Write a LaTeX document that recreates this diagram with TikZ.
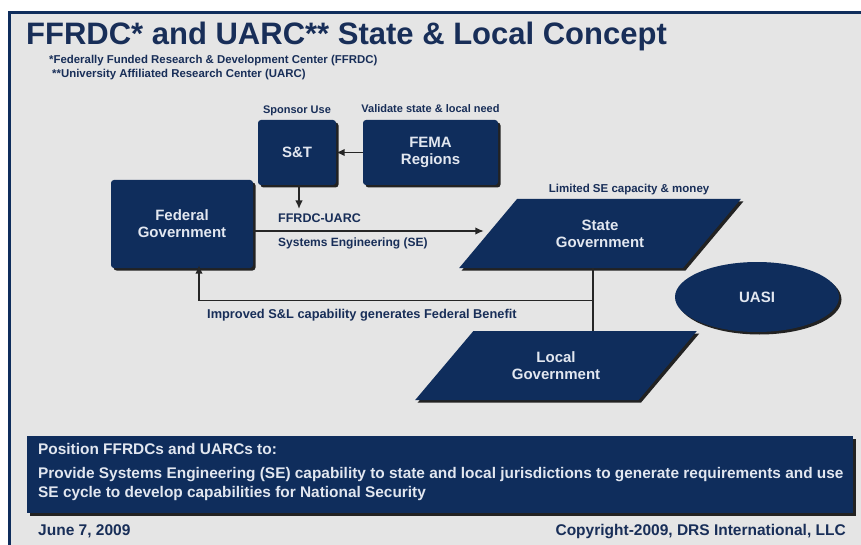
\documentclass[tikz,border=0pt]{standalone}
\usepackage{fontspec}
\setmainfont{Liberation Sans}
\usetikzlibrary{positioning,shapes.geometric,shadows,arrows.meta}

\definecolor{navy}{RGB}{15,45,92}
\definecolor{slide}{RGB}{229,229,229}
\definecolor{inktext}{RGB}{24,46,88}
\definecolor{boxtext}{RGB}{226,231,240}

\tikzset{
  govbox/.style={fill=navy, rounded corners=3pt, text=boxtext, align=center,
    font=\bfseries\fontsize{15}{17}\selectfont,
    drop shadow={shadow xshift=2.5pt, shadow yshift=-2.5pt, opacity=0.85, fill=black}},
  govpara/.style={govbox, rounded corners=0pt, trapezium, trapezium left angle=46,
    trapezium right angle=134, trapezium stretches=true,
    minimum width=282pt, minimum height=69pt},
  lbl/.style={text=inktext, inner sep=0pt, font=\bfseries\fontsize{11}{13}\selectfont},
  linklbl/.style={lbl, font=\bfseries\fontsize{12.5}{14}\selectfont},
  footlbl/.style={lbl, font=\bfseries\fontsize{15.5}{17}\selectfont},
  arr/.style={-{Latex[length=8.5pt,width=7.5pt]}, line width=1.5pt, draw=black!85},
  link/.style={line width=1.5pt, draw=black!85},
}

\begin{document}
\begin{tikzpicture}[x=1pt,y=-1pt]
    % Slide background and frame
    \useasboundingbox (0,0) rectangle (861,545);
    \fill[slide] (11,14) rectangle (861,545);
    \draw[navy, line width=3pt] (9.5,545) -- (9.5,12.5) -- (861,12.5);

    % Heading
    \node[lbl, anchor=base west, font=\bfseries\fontsize{31}{33}\selectfont] (title) at (26,45)
        {FFRDC* and UARC** State \& Local Concept};
    \node[lbl, anchor=base west, font=\bfseries\fontsize{11.4}{13}\selectfont] (ffrdcnote) at (49,64)
        {*Federally Funded Research \& Development Center (FFRDC)};
    \node[lbl, anchor=base west, font=\bfseries\fontsize{11.4}{13}\selectfont] (uarcnote) at (52,78)
        {**University Affiliated Research Center (UARC)};

    % Organisations
    \node[govbox, minimum width=78pt, minimum height=65pt] (st) at (297,152.5) {S\&T};
    \node[govbox, minimum width=135pt, minimum height=65pt] (fema) at (430.5,152.5) {FEMA\\Regions};
    \node[govbox, minimum width=142pt, minimum height=88pt] (fed) at (182,224) {Federal\\Government};
    \node[govpara] (state) at (600,233.5) {State\\Government};
    \node[govpara] (local) at (556,365.5) {Local\\Government};
    \node[govbox, ellipse, rounded corners=0pt, minimum width=164pt, minimum height=70pt] (uasi) at (757,297) {UASI};

    % Notes above the boxes
    \node[lbl, above=4pt of st] (sponsor) {Sponsor Use};
    \node[lbl, above=7pt of fema, anchor=base] (validate) {Validate state \& local need};
    \node[lbl, above=6pt of state.top side, anchor=base, font=\bfseries\fontsize{11.5}{13}\selectfont] (limited)
        {Limited SE capacity \& money};

    % Connectors
    \coordinate (uarc) at (299,209);
    \coordinate (junction) at (593,300.5);
    \draw[arr] (fema) -- (st);
    \draw[arr] (st.south -| uarc) -- (uarc);
    \draw[arr, shorten >=4pt] ([yshift=-7pt]fed.east) -- ([yshift=-7pt]fed.east -| state.left side);
    \draw[link] (state.south -| junction) -- (local.north -| junction);
    \draw[arr, shorten >=-3pt] (junction) -| ([xshift=17pt]fed.south);

    \node[linklbl, anchor=base west] (ffrdc) at (278,223) {FFRDC-UARC};
    \node[linklbl, anchor=base west, font=\bfseries\fontsize{12}{14}\selectfont] (sysen) at (278,247)
        {Systems Engineering (SE)};
    \node[linklbl, anchor=base west, font=\bfseries\fontsize{12.8}{14}\selectfont] (benefit) at (207,318)
        {Improved S\&L capability generates Federal Benefit};

    % Goal statement (base anchor sits on the last line)
    \node[fill=navy, minimum width=826pt, minimum height=77pt, anchor=north west,
          drop shadow={shadow xshift=2.5pt, shadow yshift=-2.5pt, opacity=0.85, fill=black}] (goal) at (27,436) {};
    \node[anchor=base west, align=left, inner sep=0pt, text=boxtext,
          font=\bfseries\fontsize{15.4}{19}\selectfont] (goaltext) at (38,497)
        {Position FFRDCs and UARCs to:\\[5pt]
         Provide Systems Engineering (SE) capability to state and local jurisdictions to generate requirements and use\\
         SE cycle to develop capabilities for National Security};

    % Footer
    \node[footlbl, anchor=base west] (date) at (38,535) {June 7, 2009};
    \node[footlbl, anchor=base east] (copyright) at (846,535) {Copyright-2009, DRS International, LLC};
\end{tikzpicture}
\end{document}
